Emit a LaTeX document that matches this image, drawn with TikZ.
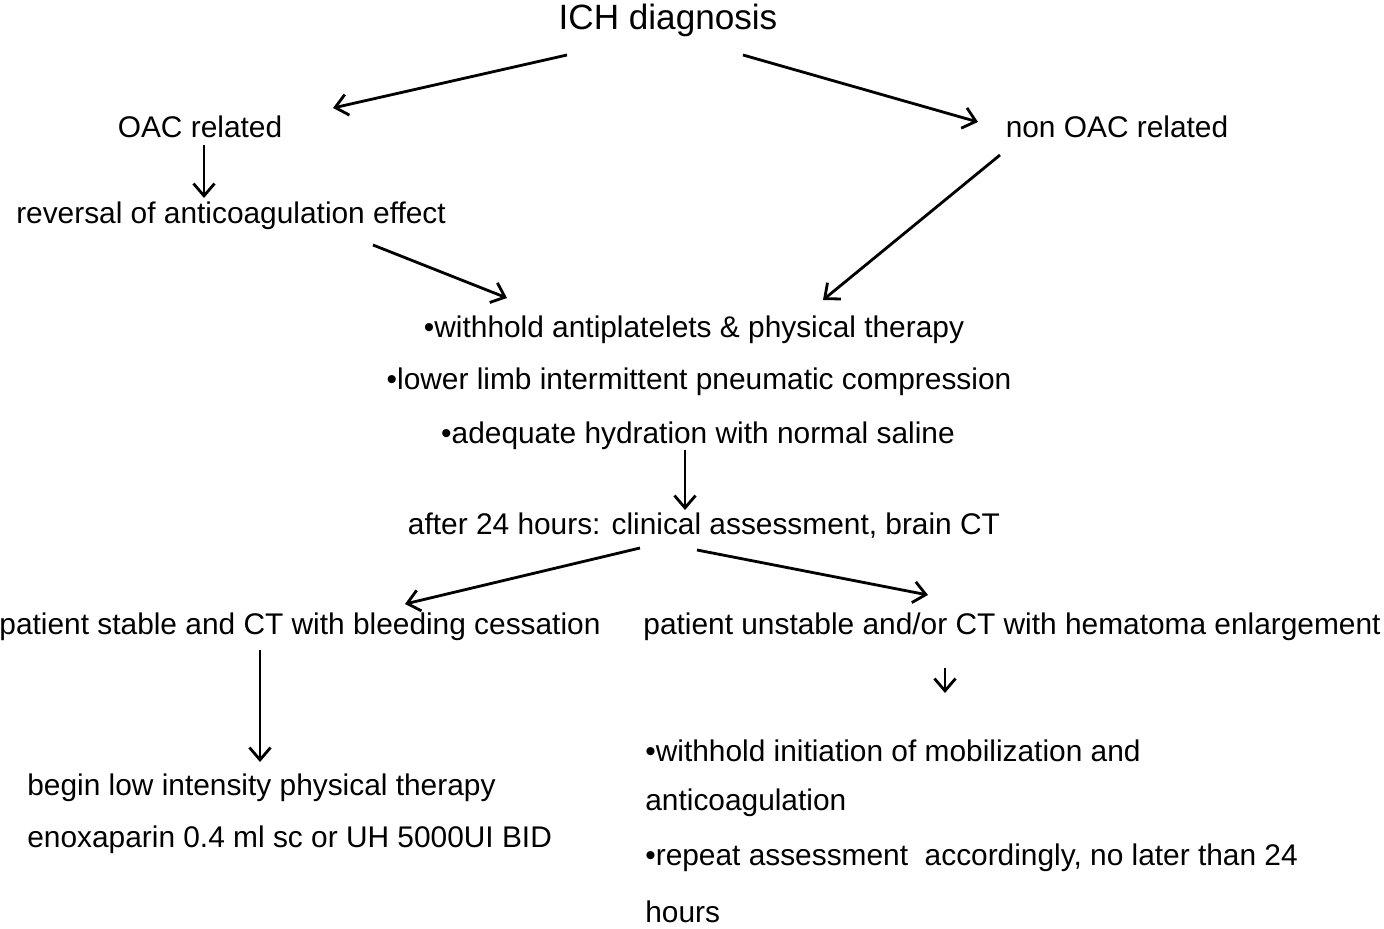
\documentclass[tikz,border=0pt]{standalone}
\usepackage{fontspec}
\setmainfont{Liberation Sans}
\usetikzlibrary{arrows.meta}
\begin{document}
\begin{tikzpicture}[x=0.02cm,y=-0.02cm,
  txt/.style={font=\fontsize{17}{20}\selectfont, inner sep=0pt},
  lt/.style={txt, anchor=west},
  arr/.style={-{Straight Barb[length=7pt,width=12pt]}, line width=1.6pt}]
\useasboundingbox (0,0) rectangle (1384,929);
%\draw[help lines] (0,0) grid (1384,929);
\node[txt, font=\fontsize{20}{24}\selectfont] (ich) at (668,20) {ICH diagnosis};
\node[txt] (oac) at (200,127) {OAC related};
\node[txt] (noac) at (1117,127) {non OAC related};
\node[txt] (rev) at (231,216) {reversal of anticoagulation effect};
\node[txt] (w1) at (694,330) {\textbullet withhold antiplatelets \& physical therapy};
\node[txt] (w2) at (699,382) {\textbullet lower limb intermittent pneumatic compression};
\node[txt] (w3) at (698,436) {\textbullet adequate hydration with normal saline};
\node[txt] (after) at (704,526) {after 24 hours: clinical assessment, brain CT};
\node[txt] (stab) at (300,627) {patient stable and CT with bleeding cessation};
\node[txt] (unst) at (1012,627) {patient unstable and/or CT with hematoma enlargement};
\node[lt] (b1) at (27,788) {begin low intensity physical therapy};
\node[lt] (b2) at (27,840) {enoxaparin 0.4 ml sc or UH 5000UI BID};
\node[lt] (u1) at (645,751) {\textbullet withhold initiation of mobilization and};
\node[lt] (u2) at (645,803) {anticoagulation};
\node[lt] (u3) at (645,858) {\textbullet repeat assessment\ \ accordingly, no later than 24};
\node[lt] (u4) at (645,912) {hours};
% connector ends
\coordinate (a1) at (567,55);  \coordinate (a2) at (333,108);
\coordinate (c1) at (743,55);  \coordinate (c2) at (978,122);
\coordinate (d1) at (204,145); \coordinate (d2) at (204,198);
\coordinate (e1) at (1000,155);\coordinate (e2) at (823,300);
\coordinate (f1) at (373,245); \coordinate (f2) at (507,298);
\coordinate (g1) at (685,450); \coordinate (g2) at (685,510);
\coordinate (h1) at (640,548); \coordinate (h2) at (405,604);
\coordinate (i1) at (697,550); \coordinate (i2) at (928,595);
\coordinate (j1) at (260,650); \coordinate (j2) at (260,762);
\coordinate (k1) at (945,668); \coordinate (k2) at (945,693);
\draw[arr] (a1) -- (a2);
\draw[arr] (c1) -- (c2);
\draw[arr] (d1) -- (d2);
\draw[arr] (e1) -- (e2);
\draw[arr] (f1) -- (f2);
\draw[arr] (g1) -- (g2);
\draw[arr] (h1) -- (h2);
\draw[arr] (i1) -- (i2);
\draw[arr] (j1) -- (j2);
\draw[arr] (k1) -- (k2);
\end{tikzpicture}
\end{document}
